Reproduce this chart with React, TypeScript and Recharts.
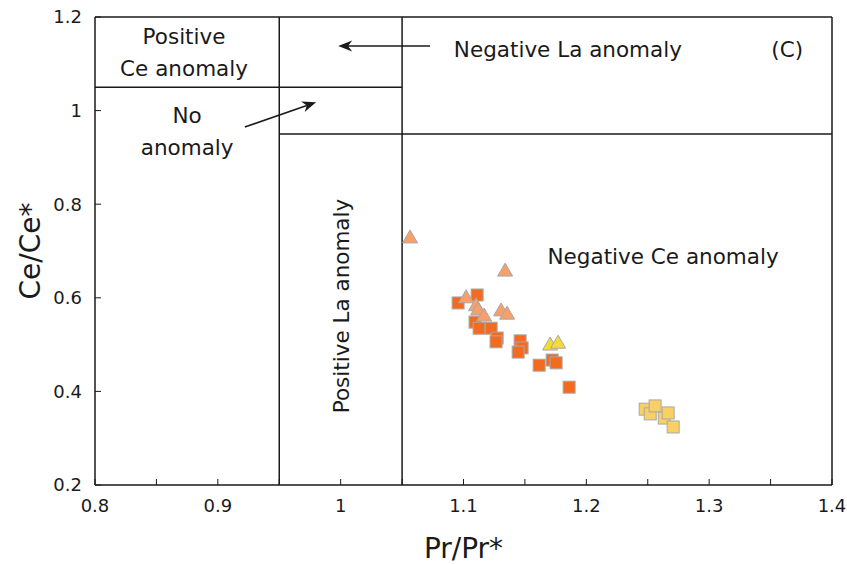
import {
  ScatterChart,
  Scatter,
  XAxis,
  YAxis,
  ReferenceLine,
  ReferenceDot,
  Label,
} from 'recharts';

const FONT = '"DejaVu Sans", "Noto Sans", sans-serif';
const INK = '#1a1a1a';

const xTicks = [0.8, 0.85, 0.9, 0.95, 1, 1.05, 1.1, 1.15, 1.2, 1.25, 1.3, 1.35, 1.4];
const yTicks = [0.2, 0.4, 0.6, 0.8, 1, 1.2];

// dark orange squares
const orangeSquares = [
  { x: 1.0956, y: 0.589 },
  { x: 1.1111, y: 0.606 },
  { x: 1.1094, y: 0.548 },
  { x: 1.1127, y: 0.535 },
  { x: 1.1225, y: 0.535 },
  { x: 1.1274, y: 0.514 },
  { x: 1.1265, y: 0.506 },
  { x: 1.1461, y: 0.508 },
  { x: 1.1477, y: 0.493 },
  { x: 1.1445, y: 0.484 },
  { x: 1.1616, y: 0.456 },
  { x: 1.1722, y: 0.467 },
  { x: 1.1754, y: 0.461 },
  { x: 1.186, y: 0.409 },
];

// light orange triangles
const peachTriangles = [
  { x: 1.0565, y: 0.728 },
  { x: 1.1339, y: 0.657 },
  { x: 1.1021, y: 0.6 },
  { x: 1.1102, y: 0.583 },
  { x: 1.1119, y: 0.574 },
  { x: 1.1168, y: 0.561 },
  { x: 1.1306, y: 0.572 },
  { x: 1.1355, y: 0.565 },
];

const yellowTriangles = [
  { x: 1.1705, y: 0.499 },
  { x: 1.177, y: 0.503 },
];

const yellowSquares = [
  { x: 1.2479, y: 0.362 },
  { x: 1.252, y: 0.352 },
  { x: 1.256, y: 0.369 },
  { x: 1.2634, y: 0.343 },
  { x: 1.2666, y: 0.354 },
  { x: 1.2707, y: 0.324 },
];

const fmtX = (v: number) =>
  Math.abs(Math.round(v * 10) - v * 10) < 1e-6 ? String(v) : '';

const XTick = (p: any) => (
  <text
    x={p.x}
    y={p.y}
    dy="0.75em"
    textAnchor="middle"
    fontSize={18}
    fontFamily={FONT}
    fill={INK}
  >
    {fmtX(p.payload.value)}
  </text>
);

const YTick = (p: any) => (
  <text
    x={p.x}
    y={p.y}
    dy="0.36em"
    textAnchor="end"
    fontSize={18}
    fontFamily={FONT}
    fill={INK}
  >
    {String(p.payload.value)}
  </text>
);

const note =
  (lines: string[], size = 21.5, angle = 0) =>
  (props: any) => {
    const vb = props.viewBox || {};
    const cx = vb.x + (vb.width || 0) / 2;
    const cy = vb.y + (vb.height || 0) / 2;
    const lh = size * 1.5;
    const y0 = cy - ((lines.length - 1) * lh) / 2;
    return (
      <text
        x={cx}
        y={y0}
        textAnchor="middle"
        dominantBaseline="central"
        fontSize={size}
        fontFamily={FONT}
        fill={INK}
        transform={angle ? `rotate(${angle} ${cx} ${cy})` : undefined}
      >
        {lines.map((l, i) => (
          <tspan key={i} x={cx} y={y0 + i * lh}>
            {l}
          </tspan>
        ))}
      </text>
    );
  };

const Arrow = (props: any) => {
  const { x1, y1, x2, y2 } = props;
  const a = Math.atan2(y2 - y1, x2 - x1);
  const L = 14;
  const W = 5.5;
  const c = Math.cos(a);
  const s = Math.sin(a);
  const bx = x2 - L * c;
  const by = y2 - L * s;
  const nx = x2 - L * 0.7 * c;
  const ny = y2 - L * 0.7 * s;
  const pts = `${x2},${y2} ${bx - s * W},${by + c * W} ${nx},${ny} ${bx + s * W},${by - c * W}`;
  return (
    <g>
      <line x1={x1} y1={y1} x2={nx} y2={ny} stroke={INK} strokeWidth={1.6} />
      <polygon points={pts} fill={INK} />
    </g>
  );
};

const markStroke = '#a8a8a8';

const squareShape = (fill: string) => (p: any) => (
  <rect
    x={p.cx - 6}
    y={p.cy - 6}
    width={12}
    height={12}
    fill={fill}
    stroke={markStroke}
    strokeWidth={1}
  />
);

const triangleShape = (fill: string) => (p: any) => (
  <polygon
    points={`${p.cx},${p.cy - 8} ${p.cx + 7.5},${p.cy + 5} ${p.cx - 7.5},${p.cy + 5}`}
    fill={fill}
    stroke={markStroke}
    strokeWidth={1}
  />
);

export default function App() {
  return (
    <div style={{ position: 'absolute', left: 0, top: 0 }}>
      <ScatterChart
        width={847}
        height={564}
        margin={{ top: 17, right: 15, bottom: 0, left: 25 }}
      >
        <XAxis
          type="number"
          dataKey="x"
          domain={[0.8, 1.4]}
          ticks={xTicks}
          interval={0}
          height={79}
          tickSize={-6}
          tickMargin={19}
          axisLine={{ stroke: INK, strokeWidth: 1.5 }}
          tickLine={{ stroke: INK, strokeWidth: 1 }}
          tick={XTick}
          allowDataOverflow
        >
          <Label
            value="Pr/Pr*"
            position="insideBottom"
            offset={6}
            style={{ fontSize: 28, fill: INK, fontFamily: FONT }}
          />
        </XAxis>
        <YAxis
          type="number"
          dataKey="y"
          domain={[0.2, 1.2]}
          ticks={yTicks}
          interval={0}
          width={70}
          tickSize={-6}
          tickMargin={19}
          axisLine={{ stroke: INK, strokeWidth: 1.5 }}
          tickLine={{ stroke: INK, strokeWidth: 1 }}
          tick={YTick}
          allowDataOverflow
        >
          <Label
            value="Ce/Ce*"
            angle={-90}
            position="insideLeft"
            offset={5}
            style={{ fontSize: 28, fill: INK, fontFamily: FONT, textAnchor: 'middle' }}
          />
        </YAxis>

        <ReferenceLine y={1.2} stroke={INK} strokeWidth={1.5} />
        <ReferenceLine x={1.4} stroke={INK} strokeWidth={1.5} />
        <ReferenceLine x={0.95} stroke={INK} strokeWidth={1.5} />
        <ReferenceLine x={1.05} stroke={INK} strokeWidth={1.5} />
        <ReferenceLine
          segment={[
            { x: 0.8, y: 1.05 },
            { x: 1.05, y: 1.05 },
          ]}
          stroke={INK}
          strokeWidth={1.5}
        />
        <ReferenceLine
          segment={[
            { x: 0.95, y: 0.95 },
            { x: 1.4, y: 0.95 },
          ]}
          stroke={INK}
          strokeWidth={1.5}
        />
        <ReferenceLine
          segment={[
            { x: 1.0728, y: 1.138 },
            { x: 0.998, y: 1.138 },
          ]}
          shape={Arrow}
        />
        <ReferenceLine
          segment={[
            { x: 0.922, y: 0.965 },
            { x: 0.98, y: 1.018 },
          ]}
          shape={Arrow}
        />

        <ReferenceDot x={0.8725} y={1.125} r={0} fill="none" stroke="none">
          <Label content={note(['Positive', 'Ce anomaly'])} />
        </ReferenceDot>
        <ReferenceDot x={0.875} y={0.956} r={0} fill="none" stroke="none">
          <Label content={note(['No', 'anomaly'])} />
        </ReferenceDot>
        <ReferenceDot x={1.185} y={1.1316} r={0} fill="none" stroke="none">
          <Label content={note(['Negative La anomaly'])} />
        </ReferenceDot>
        <ReferenceDot x={1.3635} y={1.1316} r={0} fill="none" stroke="none">
          <Label content={note(['(C)'])} />
        </ReferenceDot>
        <ReferenceDot x={1.2625} y={0.689} r={0} fill="none" stroke="none">
          <Label content={note(['Negative Ce anomaly'])} />
        </ReferenceDot>
        <ReferenceDot x={1.0} y={0.5825} r={0} fill="none" stroke="none">
          <Label content={note(['Positive La anomaly'], 21.5, -90)} />
        </ReferenceDot>

        <Scatter
          data={orangeSquares}
          shape={squareShape('#f26b1f')}
          isAnimationActive={false}
        />
        <Scatter
          data={peachTriangles}
          shape={triangleShape('#f6a06c')}
          isAnimationActive={false}
        />
        <Scatter
          data={yellowTriangles}
          shape={triangleShape('#f4dc38')}
          isAnimationActive={false}
        />
        <Scatter
          data={yellowSquares}
          shape={squareShape('#f8d063')}
          isAnimationActive={false}
        />
      </ScatterChart>
    </div>
  );
}
